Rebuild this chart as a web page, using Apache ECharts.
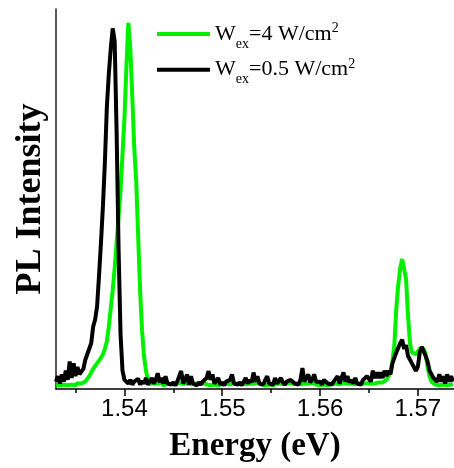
<!DOCTYPE html>
<html>
<head>
<meta charset="utf-8">
<script src="https://cdn.jsdelivr.net/npm/echarts@6/dist/echarts.min.js"></script>
<style>
html,body{margin:0;padding:0;background:#fff;}
#chart{width:454px;height:468px;}
</style>
</head>
<body>
<div id="chart"></div>
<script>
// Photon energy (eV)
const energy = [
1.5330,1.5332,1.5334,1.5336,1.5338,1.5340,1.5342,1.5344,1.5346,1.5348,
1.5350,1.5352,1.5354,1.5356,1.5358,1.5360,1.5362,1.5364,1.5366,1.5368,
1.5370,1.5372,1.5374,1.5376,1.5378,1.5380,1.5382,1.5384,1.5386,1.5388,
1.5390,1.5392,1.5394,1.5396,1.5398,1.5400,1.5402,1.5404,1.5406,1.5408,
1.5410,1.5412,1.5414,1.5416,1.5418,1.5420,1.5422,1.5424,1.5426,1.5428,
1.5430,1.5432,1.5434,1.5436,1.5438,1.5440,1.5442,1.5444,1.5446,1.5448,
1.5450,1.5452,1.5454,1.5456,1.5458,1.5460,1.5462,1.5464,1.5466,1.5468,
1.5470,1.5472,1.5474,1.5476,1.5478,1.5480,1.5482,1.5484,1.5486,1.5488,
1.5490,1.5492,1.5494,1.5496,1.5498,1.5500,1.5502,1.5504,1.5506,1.5508,
1.5510,1.5512,1.5514,1.5516,1.5518,1.5520,1.5522,1.5524,1.5526,1.5528,
1.5530,1.5532,1.5534,1.5536,1.5538,1.5540,1.5542,1.5544,1.5546,1.5548,
1.5550,1.5552,1.5554,1.5556,1.5558,1.5560,1.5562,1.5564,1.5566,1.5568,
1.5570,1.5572,1.5574,1.5576,1.5578,1.5580,1.5582,1.5584,1.5586,1.5588,
1.5590,1.5592,1.5594,1.5596,1.5598,1.5600,1.5602,1.5604,1.5606,1.5608,
1.5610,1.5612,1.5614,1.5616,1.5618,1.5620,1.5622,1.5624,1.5626,1.5628,
1.5630,1.5632,1.5634,1.5636,1.5638,1.5640,1.5642,1.5644,1.5646,1.5648,
1.5650,1.5652,1.5654,1.5656,1.5658,1.5660,1.5662,1.5664,1.5666,1.5668,
1.5670,1.5672,1.5674,1.5676,1.5678,1.5680,1.5682,1.5684,1.5686,1.5688,
1.5690,1.5692,1.5694,1.5696,1.5698,1.5700,1.5702,1.5704,1.5706,1.5708,
1.5710,1.5712,1.5714,1.5716,1.5718,1.5720,1.5722,1.5724,1.5726,1.5728,
1.5730,1.5732,1.5734,1.5736
];

// PL intensity (normalised), W_ex = 4 W/cm^2
const plHigh = [
0.012,0.015,0.010,0.014,0.012,0.016,0.010,0.015,0.012,0.014,
0.010,0.016,0.013,0.015,0.018,0.020,0.025,0.035,0.040,0.055,
0.060,0.070,0.075,0.085,0.095,0.110,0.130,0.170,0.220,0.270,
0.330,0.400,0.470,0.540,0.640,0.740,0.880,1.000,0.930,0.800,
0.660,0.570,0.420,0.270,0.160,0.090,0.050,0.025,0.015,0.012,
0.015,0.010,0.014,0.012,0.016,0.010,0.013,0.015,0.011,0.014,
0.010,0.013,0.012,0.016,0.011,0.014,0.010,0.015,0.012,0.013,
0.011,0.015,0.010,0.014,0.012,0.016,0.011,0.013,0.015,0.010,
0.014,0.012,0.016,0.010,0.013,0.015,0.011,0.014,0.010,0.013,
0.012,0.016,0.011,0.014,0.010,0.015,0.012,0.013,0.011,0.015,
0.010,0.014,0.012,0.016,0.011,0.013,0.015,0.010,0.014,0.012,
0.016,0.010,0.013,0.015,0.011,0.014,0.010,0.013,0.012,0.016,
0.011,0.014,0.010,0.015,0.012,0.013,0.011,0.015,0.010,0.014,
0.012,0.016,0.011,0.013,0.015,0.010,0.014,0.012,0.016,0.010,
0.013,0.015,0.011,0.014,0.010,0.013,0.012,0.016,0.011,0.014,
0.010,0.015,0.012,0.013,0.011,0.015,0.010,0.014,0.012,0.016,
0.011,0.014,0.013,0.015,0.016,0.018,0.020,0.018,
0.020,0.025,0.030,0.045,0.075,0.120,0.220,0.285,0.330,0.355,
0.355,0.300,0.200,0.125,0.100,0.095,0.095,0.100,0.110,0.115,
0.110,0.095,0.060,0.035,0.020,0.015,0.012,0.014,0.010,0.013,
0.012,0.015,0.010,0.014,0.012,0.013
];

// PL intensity (normalised), W_ex = 0.5 W/cm^2
const plLow = [
0.020,0.035,0.015,0.040,0.020,0.050,0.025,0.075,0.030,0.070,
0.035,0.060,0.040,0.045,0.055,0.080,0.075,0.110,0.125,0.170,
0.190,0.225,0.310,0.400,0.500,0.620,0.770,0.860,0.930,0.985,
0.950,0.700,0.380,0.150,0.050,0.025,
0.020,0.015,0.025,0.012,0.020,0.015,0.028,0.012,0.022,0.015,
0.030,0.012,0.020,0.030,0.015,0.025,0.043,0.018,0.030,0.015,
0.035,0.015,0.020,0.012,0.018,0.010,0.020,0.015,0.049,0.015,
0.025,0.040,0.012,0.035,0.015,0.020,0.010,0.018,0.012,0.020,
0.015,0.030,0.049,0.025,0.040,0.015,0.020,0.030,0.012,0.018,
0.010,0.020,0.015,0.025,0.040,0.015,0.020,0.012,0.018,0.010,
0.020,0.030,0.015,0.025,0.018,0.045,0.020,0.035,0.015,0.020,
0.012,0.025,0.035,0.015,0.020,0.012,0.030,0.015,0.020,0.030,
0.018,0.012,0.020,0.015,0.025,0.030,0.015,0.020,0.012,0.025,
0.057,0.020,0.030,0.040,0.018,0.025,0.040,0.020,0.015,0.020,
0.012,0.025,0.030,0.015,0.020,0.012,0.020,0.025,0.035,0.015,
0.030,0.045,0.020,0.035,0.018,0.025,0.015,0.030,0.015,0.020,
0.012,0.025,0.020,0.035,0.040,0.020,0.050,0.030,0.045,0.030,
0.045,0.030,0.050,0.035,0.050,0.040,0.070,0.065,0.100,0.095,
0.125,0.135,0.110,0.120,0.090,0.095,0.070,0.075,0.050,0.060,
0.100,0.115,0.120,0.090,0.075,0.050,0.040,0.030,0.035,0.020,
0.040,0.020,0.035,0.015,0.040,0.020,0.035,0.020
];

const seriesNames = ['Wex=4 W/cm2', 'Wex=0.5 W/cm2'];
const legendRich = ['W{s|ex}=4 W/cm{u|2}', 'W{s|ex}=0.5 W/cm{u|2}'];
const majorTicks = [1.54, 1.55, 1.56, 1.57];
const minorTicks = [1.535, 1.545, 1.555, 1.565];
const xTitle = 'Energy (eV)';
const yTitle = 'PL Intensity';

const chart = echarts.init(document.getElementById('chart'), null, {renderer: 'canvas'});
const serif = '"Liberation Serif", "Times New Roman", serif';
const sans = '"Liberation Sans", Arial, sans-serif';

chart.setOption({
  animation: false,
  backgroundColor: '#ffffff',
  grid: {left: 56, right: 0, top: 9, bottom: 77, containLabel: false},
  legend: {
    orient: 'vertical',
    left: 157,
    top: 17,
    padding: 0,
    itemGap: 1.7,
    itemWidth: 53,
    itemHeight: 4,
    icon: 'rect',
    selectedMode: false,
    data: seriesNames,
    formatter: function (name) { return legendRich[seriesNames.indexOf(name)]; },
    textStyle: {
      fontFamily: serif, fontSize: 22, color: '#000', lineHeight: 26,
      rich: {
        s: {fontFamily: serif, fontSize: 14, color: '#000', lineHeight: 26, padding: [20, 0, 0, 0]},
        u: {fontFamily: serif, fontSize: 14, color: '#000', lineHeight: 26, padding: [0, 0, 11, 0]}
      }
    }
  },
  xAxis: [{
    type: 'value',
    min: 1.533,
    max: 1.5737,
    position: 'bottom',
    name: xTitle,
    nameLocation: 'middle',
    nameGap: 41,
    nameTextStyle: {fontFamily: serif, fontWeight: 'bold', fontSize: 33, color: '#000'},
    axisLine: {show: true, onZero: false, lineStyle: {color: '#000', width: 1.5}},
    axisTick: {show: true, customValues: majorTicks, length: 7, lineStyle: {color: '#000', width: 1.5}},
    axisLabel: {show: true, customValues: majorTicks, margin: 8, fontFamily: sans, fontSize: 24, color: '#000',
      formatter: function (v) { return v.toFixed(2); }},
    splitLine: {show: false}
  }, {
    type: 'value',
    min: 1.533,
    max: 1.5737,
    position: 'bottom',
    axisLine: {show: false},
    axisTick: {show: true, customValues: minorTicks, length: 4, lineStyle: {color: '#000', width: 1.5}},
    axisLabel: {show: false},
    splitLine: {show: false}
  }],
  yAxis: {
    type: 'value',
    min: 0,
    max: 1.038,
    name: yTitle,
    nameLocation: 'middle',
    nameGap: 7,
    nameRotate: 90,
    nameTextStyle: {fontFamily: serif, fontWeight: 'bold', fontSize: 36, color: '#000'},
    axisLine: {show: true, lineStyle: {color: '#222', width: 1.5}},
    axisTick: {show: false},
    axisLabel: {show: false},
    splitLine: {show: false}
  },
  series: [{
    name: seriesNames[0],
    type: 'line',
    xAxisIndex: 0,
    showSymbol: false,
    color: '#00f000',
    lineStyle: {color: '#00f000', width: 4},
    data: energy.map(function (e, i) { return [e, plHigh[i]]; })
  }, {
    name: seriesNames[1],
    type: 'line',
    xAxisIndex: 0,
    showSymbol: false,
    color: '#000000',
    lineStyle: {color: '#000000', width: 4},
    data: energy.map(function (e, i) { return [e, plLow[i]]; })
  }]
});
</script>
</body>
</html>
